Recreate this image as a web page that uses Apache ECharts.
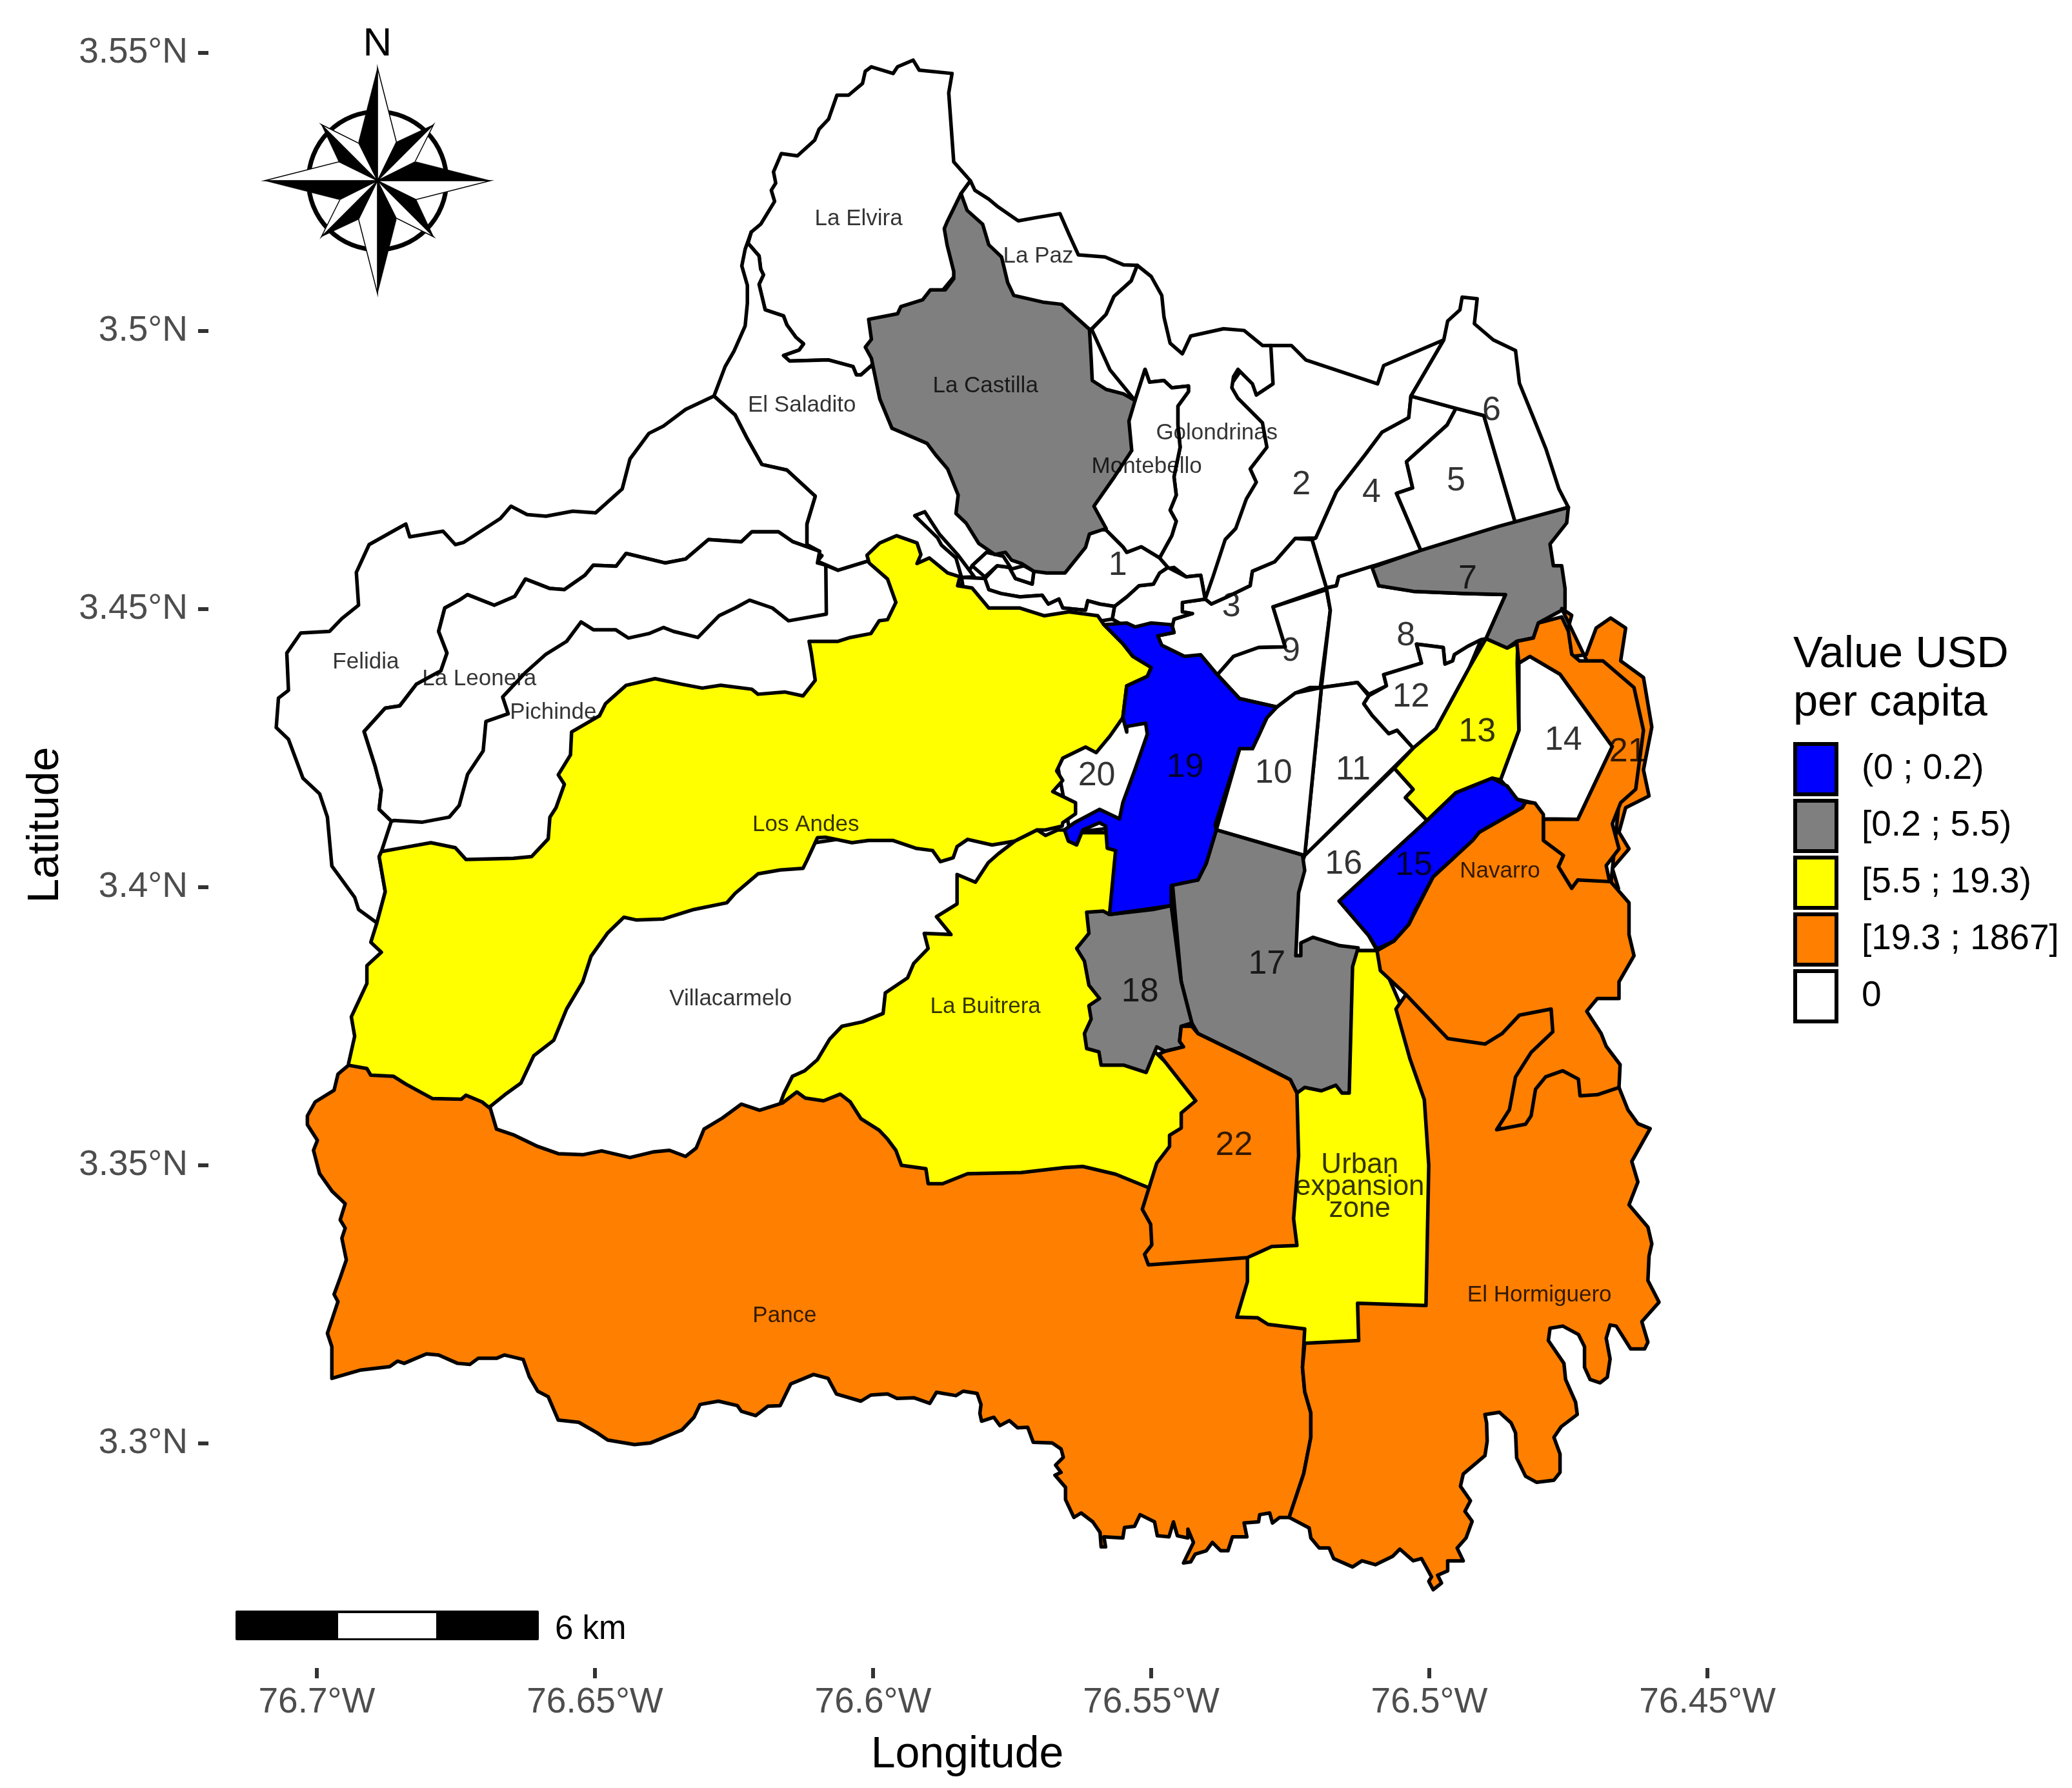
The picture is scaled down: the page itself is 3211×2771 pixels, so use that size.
<!DOCTYPE html>
<html><head><meta charset="utf-8">
<style>html,body{margin:0;padding:0;background:#fff}#c{width:3211px;height:2771px}</style>
<script src="https://cdn.jsdelivr.net/npm/echarts@6/dist/echarts.min.js"></script>
</head><body><div id="c"></div>
<script>
// Region outlines: flat lists of degrees West, degrees North
const pance=[76.6943,3.368,76.691,3.3674,76.6903,3.3662,76.6862,3.366,76.684,3.3646,76.6792,3.362,76.674,3.3619,76.6732,3.3626,76.6703,3.3614,76.6688,3.3602,76.6677,3.3565,76.6647,3.3555,76.6603,3.3534,76.6566,3.3521,76.6522,3.3519,76.6488,3.3526,76.6437,3.3514,76.6396,3.3524,76.6366,3.3527,76.6337,3.3516,76.6318,3.3531,76.6304,3.3565,76.6271,3.3585,76.6237,3.361,76.6204,3.3599,76.6163,3.3612,76.6137,3.3632,76.6122,3.3621,76.6089,3.3616,76.6059,3.3628,76.6041,3.3614,76.6022,3.3584,76.5989,3.3563,76.5974,3.3547,76.5959,3.3527,76.5949,3.35,76.5905,3.3494,76.5901,3.3467,76.5875,3.3467,76.583,3.3485,76.5734,3.3487,76.5656,3.3496,76.5623,3.3498,76.5564,3.3484,76.5505,3.346,76.5432,3.3445,76.5327,3.3334,76.5327,3.3291,76.5346,3.3227,76.5309,3.3226,76.529,3.3214,76.5224,3.3206,76.5228,3.3137,76.5224,3.3093,76.5213,3.3055,76.5213,3.3011,76.5226,3.2945,76.5252,3.2867,76.5269,3.2867,76.5282,3.2857,76.5287,3.2875,76.5305,3.2872,76.5307,3.2859,76.5333,3.2857,76.5328,3.2832,76.5354,3.2832,76.5362,3.2807,76.5375,3.2807,76.539,3.2822,76.5401,3.2807,76.5421,3.2801,76.5429,3.2787,76.5442,3.2785,76.5424,3.2822,76.5434,3.2846,76.5434,3.283,76.5453,3.2834,76.546,3.2859,76.5468,3.2832,76.5489,3.2834,76.5494,3.2859,76.552,3.2872,76.553,3.2851,76.5548,3.2849,76.5551,3.283,76.5585,3.2832,76.5582,3.2814,76.559,3.2814,76.5592,3.284,76.5605,3.2859,76.5626,3.2875,76.5639,3.2867,76.5654,3.2899,76.5654,3.2921,76.5673,3.2943,76.5662,3.2948,76.5672,3.2961,76.5658,3.2975,76.5662,3.299,76.5678,3.3001,76.5712,3.3002,76.5722,3.3029,76.574,3.3028,76.5755,3.3041,76.5772,3.3032,76.5783,3.3047,76.5805,3.304,76.5808,3.3054,76.5806,3.307,76.5813,3.309,76.5838,3.3094,76.5851,3.3086,76.5886,3.3092,76.5898,3.3072,76.5926,3.3082,76.5957,3.3081,76.5974,3.3089,76.6004,3.3087,76.6022,3.3076,76.6066,3.3089,76.6081,3.3117,76.6107,3.3124,76.6148,3.3107,76.6167,3.3068,76.6189,3.3067,76.6211,3.305,76.6237,3.3058,76.6244,3.3068,76.6278,3.3076,76.6311,3.307,76.6322,3.3047,76.6344,3.3024,76.64,3.3001,76.6429,3.2998,76.6477,3.3006,76.6496,3.3019,76.6529,3.3038,76.6566,3.3042,76.6584,3.3084,76.6603,3.3094,76.6618,3.312,76.6629,3.3151,76.6663,3.3159,76.6677,3.3153,76.671,3.3153,76.6725,3.3142,76.6747,3.3144,76.6781,3.3159,76.6803,3.3161,76.6843,3.3144,76.6855,3.3148,76.6869,3.3138,76.6921,3.3132,76.6973,3.3117,76.6973,3.3174,76.6981,3.3198,76.6962,3.3255,76.6969,3.3268,76.6958,3.3298,76.6947,3.333,76.6955,3.3369,76.6949,3.3387,76.6958,3.3402,76.6949,3.3431,76.6973,3.3454,76.6995,3.3485,76.7006,3.3527,76.6999,3.3545,76.7017,3.3573,76.7017,3.3589,76.7003,3.3614,76.6969,3.3635,76.6962,3.3664];
const hormiguero=[76.5224,3.318,76.5228,3.3137,76.5224,3.3093,76.5213,3.3055,76.5213,3.3011,76.5226,3.2945,76.5252,3.2867,76.5216,3.2848,76.5213,3.283,76.5198,3.2812,76.518,3.2812,76.5172,3.2793,76.5138,3.2778,76.5121,3.2789,76.5097,3.2782,76.5066,3.2797,76.5053,3.281,76.5029,3.2789,76.5014,3.2793,76.4996,3.276,76.5001,3.2752,76.4993,3.2737,76.4978,3.2749,76.4985,3.2763,76.4967,3.2771,76.4967,3.2789,76.4939,3.2789,76.495,3.2812,76.4934,3.283,76.4923,3.286,76.4936,3.2878,76.4926,3.2897,76.4944,3.2923,76.4939,3.2945,76.49,3.2978,76.4896,3.3004,76.4897,3.3037,76.49,3.3052,76.4874,3.3056,76.4853,3.3037,76.4845,3.3019,76.4843,3.2974,76.4827,3.2941,76.4807,3.293,76.4776,3.2934,76.4765,3.2948,76.4765,3.2981,76.4776,3.3011,76.4763,3.303,76.4734,3.3052,76.4737,3.3074,76.4755,3.3115,76.4758,3.3144,76.4786,3.3185,76.4783,3.3207,76.476,3.3211,76.4732,3.3196,76.4721,3.3174,76.4721,3.3137,76.4711,3.3115,76.4693,3.3109,76.468,3.3119,76.4675,3.3152,76.4682,3.3189,76.4675,3.3213,76.4664,3.3211,76.4638,3.317,76.4613,3.317,76.4607,3.3182,76.4618,3.3219,76.4587,3.3254,76.4607,3.3293,76.4605,3.3337,76.46,3.3359,76.4607,3.3389,76.4641,3.3429,76.4625,3.347,76.4636,3.3507,76.4603,3.3566,76.4625,3.3575,76.4643,3.36,76.4659,3.364,76.4698,3.3627,76.4729,3.3625,76.4732,3.3655,76.476,3.367,76.4791,3.3659,76.4809,3.3637,76.4817,3.3589,76.4827,3.3574,76.4879,3.3564,76.4856,3.36,76.4845,3.3659,76.4817,3.3703,76.4778,3.374,76.4781,3.3781,76.4838,3.377,76.4869,3.3737,76.49,3.3718,76.4967,3.3728,76.5042,3.3807,76.506,3.3781,76.5035,3.3692,76.5009,3.3618,76.5001,3.35,76.5006,3.3248,76.5129,3.3252,76.5127,3.3185];
const navarro=[76.5094,3.3886,76.5064,3.3903,76.5037,3.3933,76.4993,3.4019,76.4958,3.4051,76.491,3.4099,76.4833,3.4143,76.4827,3.4153,76.481,3.4151,76.4795,3.4131,76.4795,3.4084,76.4759,3.4057,76.4768,3.4037,76.4744,3.3998,76.4733,3.4013,76.4674,3.401,76.4641,3.3972,76.4641,3.3915,76.4632,3.3877,76.4659,3.383,76.4659,3.38,76.4698,3.38,76.4717,3.3777,76.4691,3.3737,76.4682,3.3714,76.4657,3.3681,76.4659,3.364,76.4805,3.3525,76.4956,3.3618,76.5042,3.3807,76.5088,3.385];
const zone22=[76.5486,3.37,76.542,3.3616,76.5446,3.3594,76.5446,3.3567,76.5467,3.3554,76.5467,3.3534,76.549,3.3504,76.5516,3.3421,76.5501,3.3394,76.5499,3.3357,76.5512,3.334,76.5505,3.3321,76.5327,3.3334,76.5283,3.3354,76.5238,3.3356,76.5244,3.3404,76.5235,3.3517,76.5238,3.363,76.525,3.3654,76.5334,3.3697,76.5416,3.3737,76.5427,3.375,76.5446,3.375,76.5449,3.3723,76.5442,3.3713,76.5475,3.3705];
const zone21Outer=[76.4762,3.4501,76.4744,3.4489,76.4756,3.4445,76.4742,3.4415,76.4718,3.4418,76.47,3.4466,76.4674,3.4484,76.4647,3.4466,76.4656,3.4407,76.4615,3.4377,76.46,3.4288,76.4615,3.4211,76.4605,3.4164,76.4647,3.4143,76.4659,3.4099,76.4641,3.4069,76.4671,3.4034,76.466,3.3998,76.4674,3.4001,76.4648,3.4264];
const zone21=[76.4843,3.4442,76.4813,3.4448,76.4804,3.4475,76.4762,3.4486,76.475,3.446,76.4744,3.4419,76.473,3.4407,76.4688,3.4407,76.4632,3.4359,76.4615,3.4282,76.4629,3.4176,76.4656,3.4152,76.4671,3.4114,76.4659,3.4069,76.4682,3.4039,76.4674,3.4001,76.4733,3.4013,76.4744,3.3998,76.4768,3.4037,76.4759,3.4057,76.4795,3.4084,76.4795,3.4122,76.4733,3.4122,76.4671,3.4253,76.4765,3.4383,76.4819,3.4415,76.4839,3.4403];
const urban=[76.5194,3.367,76.517,3.3872,76.5129,3.3886,76.5094,3.3886,76.5052,3.3789,76.4957,3.3575,76.4957,3.3219,76.5194,3.3124,76.5289,3.3172,76.5372,3.3243,76.5361,3.3314,76.5289,3.3504,76.5254,3.3635];
const losAndes=[76.6943,3.3683,76.6932,3.3732,76.6938,3.3767,76.691,3.3827,76.691,3.3859,76.6884,3.3883,76.6903,3.3901,76.6892,3.3936,76.6877,3.3992,76.6888,3.4055,76.6884,3.4064,76.6851,3.407,76.6795,3.408,76.6751,3.4071,76.6732,3.405,76.6647,3.4052,76.6614,3.4055,76.6584,3.4087,76.6581,3.4126,76.657,3.4143,76.6555,3.4185,76.6566,3.4202,76.6544,3.4238,76.6542,3.4279,76.6492,3.4308,76.6481,3.433,76.6444,3.4363,76.6392,3.4375,76.6344,3.4365,76.6307,3.4358,76.6274,3.4363,76.6218,3.4356,76.6207,3.4347,76.6159,3.4351,76.6126,3.4344,76.6104,3.4372,76.6111,3.4421,76.6115,3.4442,76.6063,3.4442,76.6041,3.4449,76.6004,3.4456,76.5989,3.4479,76.5974,3.4481,76.5959,3.4512,76.5974,3.4554,76.6007,3.4583,76.6011,3.4597,76.5988,3.4619,76.5958,3.4632,76.5921,3.4619,76.5914,3.4598,76.5921,3.4582,76.5899,3.4592,76.5866,3.4565,76.5844,3.4558,76.5848,3.4542,76.5822,3.4538,76.5792,3.4502,76.5736,3.4502,76.5692,3.4488,76.5648,3.4495,76.5596,3.4488,76.5585,3.4472,76.5551,3.4438,76.5533,3.4415,76.55,3.4395,76.5507,3.4379,76.5544,3.4362,76.5551,3.4305,76.5574,3.4272,76.5599,3.4242,76.5618,3.4252,76.5659,3.4232,76.567,3.4209,76.5659,3.4192,76.5677,3.4172,76.5636,3.4152,76.5636,3.4132,76.5659,3.4116,76.566,3.411,76.569,3.4103,76.5705,3.4103,76.5745,3.4083,76.5786,3.4076,76.583,3.4086,76.5849,3.4073,76.5856,3.4053,76.5879,3.4046,76.5893,3.4066,76.5923,3.407,76.5964,3.4084,76.6008,3.4084,76.6038,3.408,76.6086,3.409,76.61,3.4089,76.6119,3.4048,76.6126,3.4034,76.6167,3.4031,76.6207,3.4024,76.6248,3.3989,76.6263,3.3972,76.6322,3.396,76.6377,3.3943,76.6425,3.3941,76.6448,3.3946,76.6477,3.3918,76.6507,3.3876,76.6522,3.383,76.6551,3.3781,76.6574,3.3725,76.661,3.3697,76.6633,3.3648,76.6662,3.3627,76.6688,3.3606,76.6762,3.3575,76.6929,3.3635];
const buitrera=[76.6167,3.3611,76.616,3.363,76.6145,3.366,76.6123,3.367,76.61,3.369,76.6078,3.3727,76.6056,3.375,76.6019,3.3758,76.5982,3.3773,76.5978,3.381,76.5938,3.3837,76.5927,3.3863,76.5901,3.389,76.5908,3.3917,76.586,3.3915,76.5886,3.3947,76.5849,3.397,76.5849,3.4023,76.5816,3.4009,76.5793,3.4044,76.5775,3.406,76.5745,3.4083,76.5705,3.4103,76.569,3.4093,76.5668,3.4103,76.5653,3.4103,76.5622,3.4098,76.5563,3.4098,76.5527,3.3932,76.5527,3.3737,76.5361,3.3575,76.5432,3.3409,76.5717,3.3409,76.595,3.3457,76.605,3.3575,76.6145,3.3575];
const gray17=[76.5383,3.4103,76.5228,3.4058,76.5224,3.403,76.5235,3.399,76.524,3.3877,76.5231,3.3877,76.5231,3.39,76.5209,3.391,76.5161,3.3895,76.5128,3.3891,76.5138,3.3857,76.5144,3.363,76.5157,3.363,76.5168,3.3644,76.5194,3.3634,76.5224,3.364,76.5238,3.363,76.525,3.3654,76.5334,3.3697,76.5416,3.3737,76.5427,3.3756,76.5446,3.383,76.5464,3.4031,76.5416,3.4013,76.5401,3.4043];
const gray18=[76.5616,3.3955,76.5586,3.3957,76.5575,3.3951,76.5497,3.396,76.5464,3.3967,76.5446,3.383,76.5427,3.3756,76.5446,3.375,76.5449,3.3723,76.5442,3.3713,76.5475,3.3705,76.549,3.3713,76.5509,3.3667,76.5549,3.368,76.559,3.368,76.5594,3.3704,76.5616,3.371,76.562,3.3737,76.5608,3.3763,76.5612,3.3787,76.5593,3.38,76.5612,3.3824,76.562,3.3867,76.5634,3.389,76.5612,3.3917];
const gray7=[76.5103,3.4575,76.5017,3.4605,76.4875,3.4649,76.475,3.4683,76.4753,3.4655,76.4783,3.4617,76.4777,3.4578,76.4762,3.4578,76.4756,3.4537,76.4756,3.4501,76.4771,3.4493,76.4804,3.4475,76.4813,3.4448,76.4843,3.4442,76.486,3.443,76.4898,3.4447,76.4863,3.4526,76.494,3.4528,76.5029,3.4532,76.5091,3.4542];
const castilla=[76.5842,3.5247,76.5831,3.5217,76.5803,3.5192,76.5792,3.5155,76.5769,3.5133,76.5758,3.5087,76.5747,3.5064,76.5695,3.5052,76.5661,3.5048,76.5611,3.5003,76.5608,3.4952,76.5606,3.4911,76.5581,3.4895,76.555,3.4887,76.5529,3.4875,76.554,3.4838,76.5535,3.4785,76.5566,3.4738,76.5603,3.4685,76.5581,3.4645,76.5611,3.4635,76.5618,3.4611,76.5655,3.4565,76.5688,3.4565,76.5711,3.4568,76.5733,3.4582,76.5751,3.4588,76.5762,3.4602,76.5781,3.4598,76.581,3.4618,76.5833,3.4655,76.5851,3.4672,76.5847,3.4705,76.5866,3.4752,76.5888,3.4778,76.5903,3.4798,76.5966,3.4825,76.5988,3.4878,76.6,3.4936,76.6003,3.4951,76.6014,3.4971,76.6003,3.4985,76.6008,3.5021,76.5956,3.5031,76.595,3.5044,76.5911,3.5056,76.5897,3.5074,76.587,3.5074,76.5855,3.5094,76.5855,3.5107,76.5867,3.5155,76.5872,3.5184,76.5867,3.5196];
const blue19=[76.5585,3.4472,76.5544,3.4475,76.5529,3.4468,76.55,3.4475,76.5463,3.4472,76.5459,3.4458,76.5488,3.4452,76.5481,3.4435,76.544,3.4415,76.5411,3.4418,76.5381,3.4382,76.5341,3.4339,76.5274,3.4324,76.5292,3.4305,76.5307,3.4272,76.5318,3.4249,76.5341,3.4249,76.5385,3.4112,76.5383,3.4103,76.5401,3.4043,76.5416,3.4013,76.5464,3.4003,76.5464,3.3967,76.5575,3.3951,76.5564,3.4066,76.5579,3.407,76.5582,3.411,76.5593,3.4116,76.5623,3.4103,76.5634,3.4076,76.5649,3.4083,76.5656,3.4103,76.5638,3.4116,76.5593,3.414,76.5557,3.4123,76.5551,3.4152,76.5529,3.4212,76.5507,3.4275,76.551,3.4295,76.5544,3.4289,76.5544,3.4279,76.5551,3.4305,76.5544,3.4362,76.5507,3.4379,76.55,3.4395,76.5533,3.4415,76.5551,3.4438];
const blue15=[76.5162,3.3975,76.5004,3.412,76.4952,3.417,76.4922,3.4182,76.4887,3.4196,76.486,3.4182,76.4842,3.4158,76.4827,3.4153,76.4833,3.4143,76.491,3.4099,76.4922,3.4084,76.4958,3.4051,76.4993,3.4019,76.5026,3.3957,76.5037,3.3933,76.5064,3.3903,76.5094,3.3889,76.5109,3.3913];
const yellow13=[76.4841,3.4439,76.486,3.443,76.4898,3.4447,76.4928,3.4395,76.4988,3.4285,76.5029,3.425,76.5063,3.4214,76.5029,3.4176,76.5043,3.4161,76.5004,3.412,76.4952,3.417,76.4887,3.4196,76.4872,3.4193,76.4839,3.4282,76.4842,3.4403];
const elvira=[76.5825,3.527,76.5855,3.5304,76.5864,3.5428,76.5858,3.5463,76.5917,3.5469,76.5928,3.5487,76.5956,3.5475,76.5964,3.5463,76.6003,3.5475,76.6014,3.5467,76.6019,3.5445,76.6044,3.5424,76.6065,3.5424,76.608,3.5381,76.6097,3.5363,76.6105,3.5343,76.6136,3.5315,76.6165,3.5319,76.6179,3.5286,76.6175,3.5266,76.6183,3.5253,76.6177,3.5233,76.6202,3.5192,76.6219,3.5178,76.6225,3.5158,76.6205,3.5135,76.6202,3.5111,76.6197,3.5101,76.6205,3.5084,76.6194,3.5038,76.6161,3.5027,76.6155,3.5011,76.6139,3.4989,76.6125,3.4977,76.6133,3.4966,76.6161,3.4956,76.615,3.4946,76.608,3.4948,76.6036,3.4936,76.603,3.4921,76.6022,3.4921,76.6005,3.4936,76.5895,3.5049,76.5836,3.512,76.5842,3.5247];
const laPaz=[76.5825,3.527,76.5817,3.5253,76.5792,3.5237,76.5775,3.5223,76.5739,3.5198,76.5706,3.5204,76.5664,3.5211,76.5647,3.5172,76.5631,3.5137,76.5583,3.5133,76.555,3.5119,76.5525,3.5118,76.5536,3.509,76.5567,3.5062,76.5581,3.503,76.5608,3.5003,76.5717,3.5025,76.5788,3.5096,76.5824,3.5191,76.5842,3.5247];
const saladito=[76.6219,3.5178,76.623,3.5147,76.6236,3.5117,76.6226,3.5082,76.6226,3.505,76.623,3.5009,76.625,3.4964,76.6266,3.4936,76.6286,3.4883,76.6248,3.4849,76.6226,3.4806,76.62,3.476,76.6155,3.475,76.6104,3.4703,76.6119,3.4653,76.6119,3.4616,76.6092,3.4596,76.61,3.4586,76.6063,3.457,76.6011,3.4586,76.5997,3.4588,76.5955,3.4559,76.5848,3.4533,76.5822,3.4578,76.5796,3.4602,76.5781,3.4598,76.5824,3.4692,76.5907,3.4835,76.5955,3.493,76.6005,3.4936,76.6022,3.4921,76.603,3.4921,76.6036,3.4936,76.608,3.4948,76.615,3.4946,76.6161,3.4956,76.6133,3.4966,76.6125,3.4977,76.6139,3.4989,76.6155,3.5011,76.6161,3.5027,76.6194,3.5038,76.6205,3.5084,76.6197,3.5101,76.6202,3.5111,76.6205,3.5135,76.6225,3.5158];
const felidia=[76.6286,3.4883,76.6337,3.4859,76.6377,3.4829,76.6403,3.4816,76.6437,3.477,76.6451,3.4716,76.6499,3.4673,76.654,3.4676,76.6588,3.4667,76.6622,3.467,76.6651,3.4685,76.667,3.4663,76.6736,3.462,76.6751,3.4616,76.6773,3.464,76.6833,3.463,76.684,3.4653,76.6858,3.4643,76.6906,3.4616,76.6929,3.4566,76.6925,3.4507,76.6955,3.4483,76.6977,3.446,76.7029,3.4457,76.7054,3.4421,76.7051,3.4354,76.7069,3.434,76.7073,3.4287,76.7051,3.4266,76.7025,3.4196,76.6995,3.4168,76.6981,3.4126,76.6973,3.4038,76.6932,3.3982,76.6925,3.396,76.6892,3.3936,76.6877,3.3992,76.6888,3.4055,76.6884,3.4064,76.6866,3.4119,76.6888,3.414,76.6884,3.4175,76.6895,3.4217,76.6915,3.428,76.6877,3.4322,76.6851,3.4326,76.6821,3.4365,76.6777,3.4389,76.6766,3.4421,76.6781,3.446,76.677,3.4502,76.6744,3.4516,76.6729,3.4526,76.6681,3.4507,76.6644,3.4523,76.6625,3.4554,76.6581,3.4537,76.6555,3.4535,76.6518,3.4561,76.6503,3.4579,76.6462,3.4577,76.6444,3.46,76.6374,3.4583,76.6337,3.459,76.6296,3.4625,76.6237,3.4621,76.6218,3.4639,76.617,3.4639,76.6144,3.4621,76.6096,3.4604,76.6119,3.4616,76.6119,3.4653,76.6104,3.4703,76.6155,3.475,76.62,3.476,76.6226,3.4806,76.6248,3.4849];
const leonera=[76.6862,3.412,76.6866,3.4119,76.6888,3.414,76.6884,3.4175,76.6895,3.4217,76.6915,3.428,76.6877,3.4322,76.6851,3.4326,76.6821,3.4365,76.6777,3.4389,76.6766,3.4421,76.6781,3.446,76.677,3.4502,76.6744,3.4516,76.6729,3.4526,76.6681,3.4507,76.6644,3.4523,76.6625,3.4554,76.6581,3.4537,76.6555,3.4535,76.6518,3.4561,76.6503,3.4579,76.6462,3.4577,76.6444,3.46,76.6374,3.4583,76.6337,3.459,76.6296,3.4625,76.6237,3.4621,76.6218,3.4639,76.617,3.4639,76.6144,3.4621,76.6096,3.4604,76.61,3.4583,76.6085,3.4579,76.6084,3.4491,76.6152,3.4479,76.6181,3.4502,76.6222,3.4516,76.6248,3.4502,76.6277,3.4488,76.6315,3.4449,76.6359,3.446,76.6377,3.4467,76.6403,3.4456,76.644,3.4448,76.6463,3.4463,76.6503,3.4463,76.6525,3.4477,76.6551,3.4442,76.6588,3.4419,76.6625,3.4386,76.6666,3.4342,76.6656,3.4312,76.6696,3.4298,76.6701,3.4245,76.6729,3.4203,76.6744,3.4147,76.6762,3.4126,76.681,3.4117];
const pichinde=[76.6834,3.4146,76.6762,3.4264,76.6691,3.436,76.6572,3.4478,76.6454,3.4526,76.6145,3.455,76.6092,3.4538,76.6085,3.4579,76.6063,3.457,76.6011,3.4586,76.5997,3.4588,76.5955,3.4559,76.5943,3.4507,76.5943,3.4466,76.6073,3.4336,76.643,3.4336,76.6525,3.4169,76.6572,3.4027,76.6857,3.4015,76.6893,3.4055,76.6893,3.411,76.6862,3.412];
const villacarmelo=[76.6703,3.3575,76.6525,3.3932,76.6382,3.3979,76.6145,3.4074,76.5907,3.411,76.5729,3.411,76.5693,3.4074,76.5883,3.3813,76.605,3.367,76.6145,3.3575,76.6382,3.3457,76.6691,3.3528];
const zone20=[76.5681,3.4288,76.5527,3.4324,76.5479,3.4264,76.5539,3.411,76.5646,3.4098];
const montebello=[76.5511,3.4931,76.5503,3.4908,76.5477,3.4911,76.5463,3.4898,76.5433,3.4901,76.5433,3.4891,76.5452,3.4865,76.5452,3.4831,76.5448,3.4791,76.5459,3.4738,76.5455,3.4705,76.5466,3.4678,76.5455,3.4658,76.5463,3.4632,76.5485,3.4592,76.5518,3.4612,76.5544,3.4602,76.5551,3.4612,76.5581,3.4642,76.561,3.468,76.5574,3.4744,76.555,3.4787,76.555,3.4839,76.5529,3.4875];
const golondrinas=[76.5607,3.5003,76.5581,3.503,76.5567,3.5062,76.5536,3.509,76.5525,3.5118,76.55,3.5098,76.5481,3.5064,76.5477,3.5025,76.5466,3.4978,76.5444,3.4959,76.5429,3.4991,76.537,3.5004,76.5333,3.5001,76.53,3.4974,76.5285,3.4974,76.5281,3.4905,76.5311,3.4885,76.5318,3.4905,76.5344,3.4931,76.5352,3.4918,76.5355,3.4898,76.5344,3.4879,76.53,3.4835,76.5292,3.4791,76.5322,3.4752,76.5311,3.4728,76.5329,3.4698,76.5348,3.4645,76.5367,3.4625,76.5389,3.4558,76.5403,3.4518,76.5411,3.4561,76.5437,3.4558,76.5459,3.4575,76.5477,3.4572,76.5485,3.4592,76.5463,3.4632,76.5455,3.4658,76.5466,3.4678,76.5455,3.4705,76.5459,3.4738,76.5448,3.4791,76.5452,3.4831,76.5452,3.4865,76.5433,3.4891,76.5433,3.4901,76.5463,3.4898,76.5477,3.4911,76.5503,3.4908,76.5511,3.4931,76.5529,3.4875,76.5574,3.493];
const zone2=[76.5285,3.4974,76.5248,3.4974,76.5222,3.4948,76.5093,3.4905,76.5082,3.4938,76.4974,3.4984,76.5033,3.4883,76.5037,3.4844,76.5085,3.4818,76.5115,3.4778,76.5167,3.4711,76.5204,3.4628,76.5241,3.4627,76.5278,3.4585,76.5318,3.4568,76.5322,3.4542,76.5363,3.4522,76.5392,3.4509,76.5403,3.4518,76.542,3.4645,76.5372,3.4882,76.5313,3.4965];
const zone4=[76.5033,3.4883,76.5037,3.4844,76.5085,3.4818,76.5115,3.4778,76.5167,3.4711,76.5204,3.4628,76.5211,3.4625,76.5185,3.4538,76.5167,3.4542,76.5163,3.4558,76.51,3.4578,76.5015,3.4605,76.5059,3.4708,76.503,3.4718,76.5041,3.4765,76.4968,3.4831,76.4952,3.4861];
const zone5=[76.4952,3.4861,76.4902,3.4848,76.4845,3.4654,76.5015,3.4605,76.5059,3.4708,76.503,3.4718,76.5041,3.4765,76.4968,3.4831];
const zone6=[76.4974,3.4984,76.4967,3.5018,76.4945,3.5038,76.4941,3.5061,76.4914,3.5058,76.4919,3.5013,76.4885,3.4984,76.4845,3.4965,76.4838,3.4906,76.4814,3.4847,76.479,3.4787,76.4767,3.4716,76.475,3.4683,76.4845,3.4654,76.4902,3.4848,76.4952,3.4861,76.5033,3.4883];
const zone3=[76.5392,3.4509,76.5363,3.4522,76.5322,3.4542,76.5318,3.4568,76.5278,3.4585,76.5241,3.4627,76.5211,3.4625,76.5185,3.4538,76.5281,3.4504,76.5259,3.4432,76.5307,3.4431,76.5352,3.4415,76.5381,3.4382,76.5444,3.436,76.5503,3.4431,76.5488,3.4452,76.5459,3.4458,76.5463,3.4472,76.5459,3.4482,76.5426,3.4492,76.5444,3.4495,76.5444,3.4512,76.5403,3.4518];
const zone3b=[76.547,3.4575,76.5437,3.4558,76.5411,3.4561,76.5403,3.4518,76.5444,3.4512,76.5444,3.4495,76.5426,3.4492,76.5459,3.4482,76.5463,3.4464,76.5529,3.4459,76.557,3.4482,76.5566,3.4505,76.5544,3.4522,76.5522,3.4542,76.5496,3.4545,76.5485,3.4565];
const zone1=[76.5581,3.4642,76.5551,3.4612,76.5544,3.4602,76.5518,3.4612,76.5485,3.4592,76.547,3.4575,76.5485,3.4565,76.5496,3.4545,76.5522,3.4542,76.5544,3.4522,76.5566,3.4505,76.5592,3.4509,76.5614,3.4515,76.5618,3.4498,76.5659,3.4502,76.5666,3.4518,76.5685,3.4509,76.5696,3.4525,76.5736,3.4522,76.577,3.4528,76.5792,3.4535,76.5799,3.4555,76.5777,3.4578,76.5755,3.4575,76.5744,3.4555,76.5714,3.4545,76.5711,3.4568,76.5669,3.4597,76.561,3.4646];
const zone1b=[76.5822,3.4578,76.5796,3.4602,76.5766,3.4595,76.5751,3.4572,76.5729,3.4578,76.5711,3.4568,76.5714,3.4545,76.5744,3.4555,76.5755,3.4575,76.5777,3.4578,76.5799,3.4558];
const zone1c=[76.5841,3.4557,76.5799,3.4555,76.5792,3.4535,76.577,3.4528,76.5736,3.4522,76.5696,3.4525,76.5685,3.4509,76.5666,3.4518,76.5659,3.4502,76.5618,3.4498,76.5614,3.4515,76.5592,3.4509,76.5566,3.4505,76.557,3.4482,76.5622,3.4474,76.5764,3.4474,76.5836,3.4526];
const sliver=[76.5925,3.4668,76.5907,3.4675,76.5881,3.4635,76.5848,3.4598,76.5818,3.4558,76.5841,3.4557,76.5851,3.4592,76.5877,3.4615,76.5884,3.4628];
const zone9=[76.5281,3.4504,76.5185,3.4535,76.5178,3.4498,76.5196,3.4359,76.5215,3.4359,76.5241,3.4349,76.5274,3.4324,76.5341,3.4339,76.5381,3.4382,76.5352,3.4415,76.5307,3.4431,76.5259,3.4432];
const zone8=[76.5185,3.4538,76.5167,3.4542,76.5163,3.4558,76.51,3.4578,76.5091,3.4542,76.5029,3.4532,76.494,3.4528,76.4863,3.4526,76.4898,3.4447,76.4907,3.4445,76.4931,3.4433,76.4955,3.4418,76.4958,3.4407,76.4972,3.4401,76.4975,3.4431,76.5023,3.4437,76.5014,3.4403,76.5082,3.4382,76.5077,3.4362,76.5109,3.4347,76.5129,3.4368,76.5194,3.4359,76.5178,3.4498];
const zone12=[76.5014,3.4403,76.5023,3.4437,76.4975,3.4431,76.4972,3.4401,76.4958,3.4407,76.4955,3.4418,76.4931,3.4433,76.4907,3.4445,76.4928,3.4395,76.4988,3.4285,76.5029,3.425,76.5058,3.4282,76.5073,3.4276,76.5103,3.4309,76.5118,3.433,76.5109,3.4344,76.5077,3.4362,76.5082,3.4382];
const zone11=[76.5194,3.4359,76.5129,3.4368,76.5109,3.4344,76.5118,3.433,76.5103,3.4309,76.5073,3.4276,76.5058,3.4282,76.5029,3.425,76.5224,3.4057];
const zone10=[76.5274,3.4324,76.5241,3.4349,76.5194,3.4359,76.5224,3.4057,76.5383,3.4103,76.5341,3.4249,76.5318,3.4249,76.5292,3.4305];
const zone16=[76.5224,3.4057,76.5063,3.4214,76.5029,3.4176,76.5043,3.4161,76.5004,3.412,76.5162,3.3975,76.5109,3.3913,76.5094,3.3886,76.5129,3.3886,76.5194,3.3861,76.5254,3.3861,76.5254,3.3979];
const zone14=[76.4839,3.4403,76.4819,3.4415,76.4765,3.4383,76.4671,3.4253,76.4733,3.4122,76.4795,3.4123,76.481,3.4151,76.4842,3.4158,76.4872,3.4193,76.4839,3.4282];

// One list of outlines per legend class, in drawing order
const classNames=['(0 ; 0.2)','[0.2 ; 5.5)','[5.5 ; 19.3)','[19.3 ; 1867]','0'];
const classColors=['#0000FF','#7F7F7F','#FFFF00','#FF7F00','#FFFFFF'];
const classRegions=[
 [blue19,blue15],
 [castilla,gray7,gray17,gray18],
 [losAndes,buitrera,urban,yellow13],
 [pance,zone22,zone21Outer,zone21,navarro,hormiguero],
 [villacarmelo,pichinde,elvira,laPaz,saladito,felidia,leonera,zone20,zone2,golondrinas,montebello,zone4,zone5,zone6,zone3,zone3b,zone1,zone1b,zone1c,sliver,zone9,zone8,zone12,zone11,zone10,zone16,zone14]
];
const drawOrder=[4,2,1,3,0];

// Place labels: degrees West, degrees North, text
const placeLabels=[[76.6026,3.5201,'La Elvira'],[76.5703,3.5134,'La Paz'],[76.5798,3.4901,'La Castilla'],[76.6128,3.4866,'El Saladito'],[76.5382,3.4816,'Golondrinas'],[76.5508,3.4756,'Montebello'],[76.6912,3.4405,'Felidia'],[76.6708,3.4374,'La Leonera'],[76.6575,3.4314,'Pichinde'],[76.6121,3.4112,'Los Andes'],[76.6256,3.3799,'Villacarmelo'],[76.5798,3.3785,'La Buitrera'],[76.4873,3.4029,'Navarro'],[76.6159,3.3229,'Pance'],[76.4802,3.3267,'El Hormiguero']];
const urbanLabel=[[76.5125,3.3461,'Urban\nexpansion\nzone']];
const numberLabels=[[76.556,3.4578,'1'],[76.523,3.4723,'2'],[76.5356,3.4504,'3'],[76.5104,3.4709,'4'],[76.4952,3.473,'5'],[76.4888,3.4856,'6'],[76.4931,3.4554,'7'],[76.5042,3.4452,'8'],[76.5249,3.4424,'9'],[76.528,3.4205,'10'],[76.5137,3.421,'11'],[76.5033,3.4341,'12'],[76.4914,3.4279,'13'],[76.4759,3.4264,'14'],[76.5028,3.4039,'15'],[76.5154,3.4041,'16'],[76.5292,3.3861,'17'],[76.552,3.3811,'18'],[76.5439,3.4215,'19'],[76.5598,3.42,'20'],[76.4643,3.4243,'21'],[76.5351,3.3535,'22']];

// Axis ticks
const lonTicks=[76.7,76.65,76.6,76.55,76.5,76.45];
const lonTickLabels=['76.7°W','76.65°W','76.6°W','76.55°W','76.5°W','76.45°W'];
const latTicks=[3.3,3.35,3.4,3.45,3.5,3.55];
const latTickLabels=['3.3°N','3.35°N','3.4°N','3.45°N','3.5°N','3.55°N'];

const FONT='"Liberation Sans", Arial, sans-serif';
function pairs(f){const o=[];for(let i=0;i<f.length;i+=2)o.push([f[i],f[i+1]]);return o;}

const series=drawOrder.map(function(c){
  const list=classRegions[c].map(pairs);
  return {
    type:'custom',name:classNames[c],coordinateSystem:'cartesian2d',
    itemStyle:{color:classColors[c],borderColor:'#000',borderWidth:6},
    clip:false,silent:true,z:2+drawOrder.indexOf(c),
    data:list.map(function(p,i){return [p[0][0],p[0][1],i];}),
    renderItem:function(params,api){
      const pts=list[api.value(2)].map(function(p){return api.coord(p);});
      return {type:'polygon',shape:{points:pts},style:{fill:classColors[c],stroke:'#000',lineWidth:5.5,lineJoin:'round'}};
    }
  };
});
function labelSeries(rows,size,lh){
  return {type:'scatter',symbolSize:0,silent:true,z:20,clip:false,
    data:rows.map(function(r){return {value:[r[0],r[1]],name:r[2]};}),
    label:{show:true,position:'inside',formatter:'{b}',color:'#000',fontFamily:FONT,fontSize:size,lineHeight:lh},
    labelLayout:{hideOverlap:false}};
}
series.push(labelSeries(placeLabels,35,40),labelSeries(numberLabels,52,56),labelSeries(urbanLabel,44,34));

// Compass rose
const SPIKE_BLACK=[[0,-175],[-29.3,-60],[0,0]],SPIKE_WHITE=[[0,-175],[29.3,-60],[0,0]];
const DIAG_BLACK=[[87,-87],[29.3,-60],[0,0]],DIAG_WHITE=[[87,-87],[58,-29],[0,0]];
function rot(pts,k){return pts.map(function(p){let x=p[0],y=p[1];for(let i=0;i<k;i++){const t=x;x=-y;y=t;}return [x,y];});}
const rose=[{type:'circle',x:585,y:280,shape:{r:107},style:{fill:'#fff',stroke:'#000',lineWidth:7}}];
function kite(pts,k,black){rose.push({type:'polygon',x:585,y:280,shape:{points:rot(pts,k)},style:{fill:black?'#000':'#fff',stroke:'#000',lineWidth:black?0.5:1.5}});}
[0,1,2,3].forEach(function(k){kite(DIAG_WHITE,k,false);kite(DIAG_BLACK,k,true);});
[0,1,2,3].forEach(function(k){kite(SPIKE_WHITE,k,false);kite(SPIKE_BLACK,k,true);});

const graphics=rose.concat([
  {type:'text',x:585,y:69,style:{text:'N',font:'62px '+FONT,fill:'#000',textAlign:'center',textVerticalAlign:'middle'}},
  {type:'rect',shape:{x:365,y:2496,width:470,height:46,r:2},style:{fill:'#000'}},
  {type:'rect',shape:{x:524,y:2500,width:152,height:39},style:{fill:'#fff'}},
  {type:'text',x:860,y:2526,style:{text:'6 km',font:'51px '+FONT,fill:'#000',textAlign:'left',textVerticalAlign:'middle'}}
]);

const chart=echarts.init(document.getElementById('c'),null,{renderer:'canvas',width:3211,height:2771,devicePixelRatio:1});
chart.setOption({
  animation:false,backgroundColor:'#fff',
  grid:{left:323,top:0,width:2352,height:2585},
  title:{text:'Value USD\nper capita',left:2779,top:978,padding:0,textStyle:{fontFamily:FONT,fontSize:68.5,fontWeight:'normal',color:'#000',lineHeight:75}},
  legend:{data:classNames,orient:'vertical',left:2779,top:1150,padding:0,itemWidth:64,itemHeight:78,itemGap:4,icon:'rect',selectedMode:false,
    itemStyle:{borderColor:'#000',borderWidth:6},
    textStyle:{fontFamily:FONT,fontSize:55,color:'#000',padding:[0,0,0,34]}},
  xAxis:{type:'value',inverse:true,min:76.44664,max:76.71949,
    name:'Longitude',nameLocation:'middle',nameGap:101,nameTextStyle:{fontFamily:FONT,fontSize:68,color:'#000'},
    splitLine:{show:false},axisLine:{show:false},
    axisTick:{show:true,length:16,lineStyle:{color:'#333',width:6},customValues:lonTicks},
    axisLabel:{show:true,margin:26,fontFamily:FONT,fontSize:55,color:'#4D4D4D',customValues:lonTicks,
      formatter:function(v){return lonTickLabels[lonTicks.findIndex(function(t){return Math.abs(t-v)<1e-6;})]||'';}}},
  yAxis:{type:'value',min:3.25963,max:3.55951,
    name:'Latitude',nameLocation:'middle',nameGap:218,nameRotate:90,nameTextStyle:{fontFamily:FONT,fontSize:68,color:'#000',padding:[0,0,0,28]},
    splitLine:{show:false},axisLine:{show:false},
    axisTick:{show:true,length:16,lineStyle:{color:'#333',width:6},customValues:latTicks},
    axisLabel:{show:true,margin:32,fontFamily:FONT,fontSize:55,color:'#4D4D4D',customValues:latTicks,
      formatter:function(v){return latTickLabels[latTicks.findIndex(function(t){return Math.abs(t-v)<1e-6;})]||'';}}},
  graphic:{elements:graphics},
  series:series
});
</script></body></html>
